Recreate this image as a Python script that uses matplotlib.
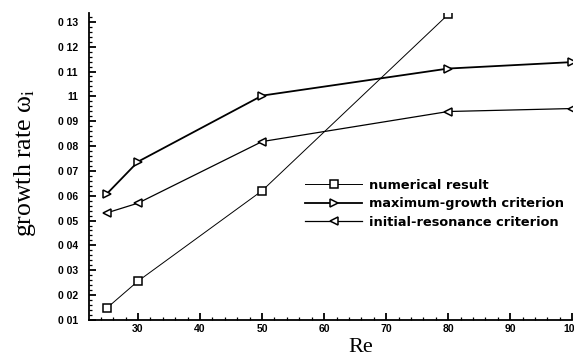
import matplotlib
matplotlib.use("Agg")
import matplotlib.pyplot as plt
from matplotlib.ticker import MultipleLocator

plt.rcParams["mathtext.fontset"] = "stix"

re_num = [25, 30, 50, 80]
growth_num = [0.0148, 0.0256, 0.0620, 0.1330]

re_crit = [25, 30, 50, 80, 100]
growth_max = [0.0608, 0.0737, 0.1003, 0.1112, 0.1138]
growth_init = [0.0531, 0.0570, 0.0818, 0.0939, 0.0951]

x_ticks = [30, 40, 50, 60, 70, 80, 90, 100]
x_labels = ["30", "40", "50", "60", "70", "80", "90", "100"]
y_ticks = [0.01, 0.02, 0.03, 0.04, 0.05, 0.06, 0.07, 0.08, 0.09, 0.10, 0.11, 0.12, 0.13]
y_labels = ["0 01", "0 02", "0 03", "0 04", "0 05", "0 06", "0 07", "0 08",
            "0 09", "11", "0 11", "0 12", "0 13"]

fig = plt.figure(figsize=(5.74, 3.59), dpi=100)
ax = fig.add_axes([0.155, 0.109, 0.842, 0.855])

ax.plot(re_num, growth_num, color="black", lw=0.7, marker="s", ms=6,
        mfc="white", mec="black", mew=1.1, label="numerical result")
ax.plot(re_crit, growth_max, color="black", lw=1.3, marker=">", ms=6,
        mfc="white", mec="black", mew=1.1, label="maximum-growth criterion")
ax.plot(re_crit, growth_init, color="black", lw=0.9, marker="<", ms=6,
        mfc="white", mec="black", mew=1.1, label="initial-resonance criterion")

ax.set_xlim(22.1, 100)
ax.set_ylim(0.01, 0.1336)
ax.set_xticks(x_ticks)
ax.set_xticklabels(x_labels)
ax.set_yticks(y_ticks)
ax.set_yticklabels(y_labels)
ax.xaxis.set_minor_locator(MultipleLocator(2))
ax.yaxis.set_minor_locator(MultipleLocator(0.002))

for side in ("top", "right"):
    ax.spines[side].set_visible(False)
for side in ("left", "bottom"):
    ax.spines[side].set_linewidth(1.3)

ax.tick_params(which="major", direction="in", length=5, width=1.3,
               labelsize=7.5)
ax.tick_params(axis="y", which="major", pad=8)
ax.tick_params(axis="x", which="major", pad=3)
ax.tick_params(which="minor", direction="in", length=2.5, width=0.9)
for lab in ax.get_xticklabels() + ax.get_yticklabels():
    lab.set_fontfamily("Liberation Sans")
    lab.set_fontweight("bold")

ax.set_xlabel("Re", fontfamily="Liberation Serif", fontsize=16)
ax.xaxis.set_label_coords(0.562, -0.058)
ax.set_ylabel("growth rate ω$_{\\rm i}$", fontfamily="Liberation Serif",
              fontsize=18.5)
ax.yaxis.set_label_coords(-0.106, 0.51)

leg = ax.legend(loc="upper left", bbox_to_anchor=(0.448, 0.46), frameon=False,
                handlelength=4.4, handletextpad=0.55, labelspacing=0.42,
                borderaxespad=0, borderpad=0,
                prop={"family": "DejaVu Sans", "weight": "bold", "size": 9.3})

fig.savefig("out.png", dpi=100)
